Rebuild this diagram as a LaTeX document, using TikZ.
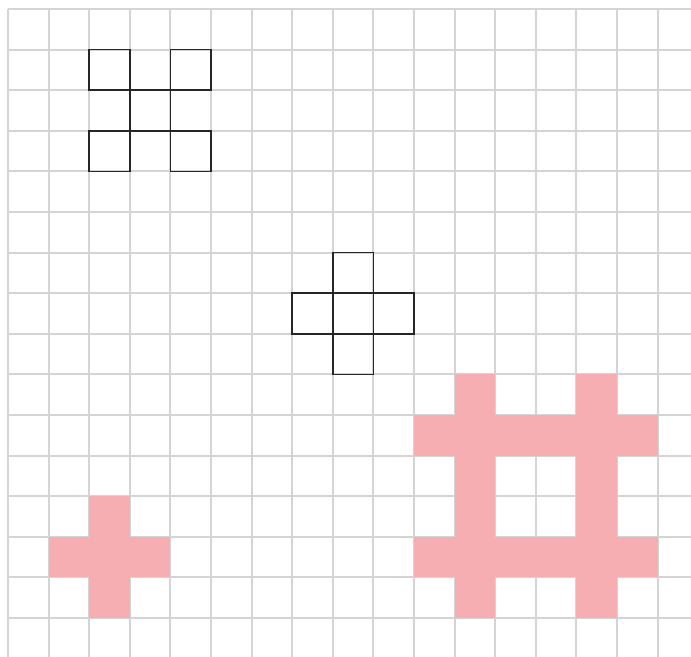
\documentclass[tikz,border=0pt]{standalone}
\usepackage{xcolor}
\usepackage{tikz}
\usetikzlibrary{calc}

\definecolor{gridgray}{HTML}{D4D4D4}
\definecolor{cellpink}{HTML}{F7AEB2}

\tikzset{
  gridline/.style={gridgray, line width=0.85pt},
  outlinecell/.style={draw=black!85, line width=0.7pt},
  pinkcell/.style={fill=cellpink}
}

\begin{document}
\begin{tikzpicture}[x=0.6cm, y=0.6cm]
  % Page frame (grid runs off the right and bottom edges)
  \useasboundingbox (-0.197,0.222) rectangle (16.823,-15.936);
  \fill[white] (-0.197,0.222) rectangle (16.823,-15.936);
  \clip (-0.197,0.222) rectangle (16.823,-15.936);

  % Background grid
  \foreach \i in {0,...,17}{
    \draw[gridline] (\i,0) -- (\i,-17);
  }
  \foreach \j in {0,...,16}{
    \draw[gridline] (0,-\j) -- (18,-\j);
  }

  % Outlined X shape (top left)
  \foreach \c/\r in {2/1, 4/1, 3/2, 2/3, 4/3}{
    \draw[outlinecell] (\c,-\r) rectangle ++(1,-1);
  }

  % Outlined plus (middle)
  \foreach \c/\r in {8/6, 7/7, 8/7, 9/7, 8/8}{
    \draw[outlinecell] (\c,-\r) rectangle ++(1,-1);
  }

  % Filled plus (bottom left)
  \foreach \c/\r in {2/12, 1/13, 2/13, 3/13, 2/14}{
    \fill[pinkcell] (\c,-\r) rectangle ++(1,-1);
  }

  % Filled hash (bottom right)
  \fill[pinkcell] (11,-9) rectangle (12,-15);
  \fill[pinkcell] (14,-9) rectangle (15,-15);
  \fill[pinkcell] (10,-10) rectangle (16,-11);
  \fill[pinkcell] (10,-13) rectangle (16,-14);
\end{tikzpicture}
\end{document}
